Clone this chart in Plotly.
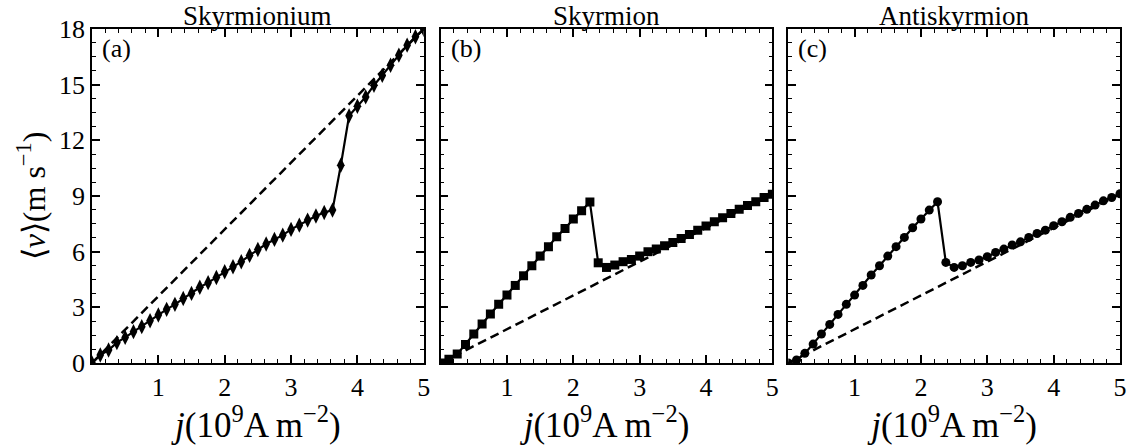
import plotly.graph_objects as go

# ---------------- data ----------------
j_step = 0.125
j_vals = [round(j_step * k, 3) for k in range(41)]  # 0 .. 5

v_skyrmionium = [0.0, 0.43, 0.7, 1.1, 1.38, 1.69, 1.96, 2.28, 2.59, 2.89, 3.16,
                 3.48, 3.75, 4.08, 4.33, 4.61, 4.92, 5.19, 5.46, 5.8, 6.12,
                 6.41, 6.66, 6.89, 7.2, 7.43, 7.7, 7.92, 8.11, 8.24, 10.66,
                 13.32, 13.84, 14.34, 14.97, 15.5, 16.05, 16.59, 17.13, 17.58, 17.98]

v_skyrmion = [0.0, 0.2, 0.48, 1.0, 1.56, 2.1, 2.64, 3.16, 3.66, 4.18, 4.7,
              5.24, 5.76, 6.27, 6.8, 7.25, 7.76, 8.2, 8.67, 5.4, 5.15,
              5.28, 5.46, 5.58, 5.76, 6.0, 6.14, 6.32, 6.5, 6.71, 6.93,
              7.16, 7.38, 7.61, 7.83, 8.06, 8.28, 8.49, 8.69, 8.92, 9.1]

v_antiskyrmion = [0.0, 0.16, 0.52, 1.02, 1.56, 2.08, 2.62, 3.16, 3.66, 4.18, 4.74,
                  5.24, 5.76, 6.27, 6.77, 7.29, 7.76, 8.24, 8.69, 5.42, 5.15,
                  5.24, 5.42, 5.55, 5.73, 5.96, 6.14, 6.36, 6.53, 6.77, 6.98,
                  7.16, 7.4, 7.61, 7.85, 8.06, 8.28, 8.51, 8.74, 8.92, 9.12]

# analytic reference lines (dashed), endpoints
ref_j = [0, 5]
ref_skyrmionium = [0, 18]
ref_skyrmion = [0, 9.1]
ref_antiskyrmion = [0, 9.1]

titles = ["Skyrmionium", "Skyrmion", "Antiskyrmion"]
labels = ["(a)", "(b)", "(c)"]
x_ticks = [0, 1, 2, 3, 4, 5]
x_ticktext = ["", "1", "2", "3", "4", "5"]
y_ticks = [0, 3, 6, 9, 12, 15, 18]

# ---------------- figure ----------------
FONT = "'Liberation Serif', 'Times New Roman', serif"
W, H = 1138, 445
L, R, T, B = 92, 11, 29, 82
pw = W - L - R
panels_px = [(92, 426), (443, 777), (793, 1127)]
domains = [[(a - L) / pw, (b - L) / pw] for a, b in panels_px]

fig = go.Figure()
series = [v_skyrmionium, v_skyrmion, v_antiskyrmion]
refs = [ref_skyrmionium, ref_skyrmion, ref_antiskyrmion]
symbols = ["diamond-tall", "square", "circle"]
msizes = [11, 9, 9]

for i in range(3):
    xa = "x" if i == 0 else f"x{i+1}"
    ya = "y" if i == 0 else f"y{i+1}"
    fig.add_trace(go.Scatter(x=ref_j, y=refs[i], mode="lines",
                             line=dict(color="black", width=2.5, dash="9px,5px"),
                             xaxis=xa, yaxis=ya, showlegend=False, cliponaxis=True))
    fig.add_trace(go.Scatter(x=j_vals, y=series[i], mode="lines+markers",
                             line=dict(color="black", width=2.2),
                             marker=dict(symbol=symbols[i], size=msizes[i], color="black"),
                             xaxis=xa, yaxis=ya, showlegend=False, cliponaxis=True))

axis_common = dict(showline=True, linecolor="black", linewidth=1.5, mirror="allticks",
                   ticks="inside", tickcolor="black", tickwidth=1.5, ticklen=8,
                   showgrid=False, zeroline=False,
                   tickfont=dict(family=FONT, size=26, color="black"))

layout = dict(width=W, height=H, margin=dict(l=L, r=R, t=T, b=B),
              plot_bgcolor="white", paper_bgcolor="white",
              font=dict(family=FONT, color="black"))

annotations = []
for i in range(3):
    xk = "xaxis" if i == 0 else f"xaxis{i+1}"
    yk = "yaxis" if i == 0 else f"yaxis{i+1}"
    xref = "x" if i == 0 else f"x{i+1}"
    yref = "y" if i == 0 else f"y{i+1}"
    layout[xk] = dict(axis_common, domain=domains[i], range=[0, 5],
                      tickmode="array", tickvals=x_ticks, ticktext=x_ticktext,
                      anchor=yref,
                      minor=dict(ticks="inside", tickmode="linear", tick0=0, dtick=0.2,
                                 ticklen=4, tickcolor="black", tickwidth=1.2),
                      title=dict(text="<i>j</i>(10<sup>9</sup>A m<sup>−2</sup>)",
                                 font=dict(family=FONT, size=35, color="black"),
                                 standoff=4))
    layout[yk] = dict(axis_common, domain=[0, 1], range=[0, 18],
                      tickmode="array", tickvals=y_ticks,
                      showticklabels=(i == 0), anchor=xref,
                      minor=dict(ticks="inside", tickmode="linear", tick0=0, dtick=0.75,
                                 ticklen=4, tickcolor="black", tickwidth=1.2))
    if i == 0:
        layout[yk]["title"] = dict(text="⟨<i>v</i>⟩(m s<sup>−1</sup>)",
                                   font=dict(family=FONT, size=32, color="black"),
                                   standoff=4)
    d = domains[i]
    annotations.append(dict(text=titles[i], x=(d[0] + d[1]) / 2, y=1, xref="paper",
                            yref="paper", xanchor="center", yanchor="bottom",
                            showarrow=False, yshift=-4,
                            font=dict(family=FONT, size=27, color="black")))
    annotations.append(dict(text=labels[i], x=d[0], y=1, xref="paper", yref="paper",
                            xanchor="left", yanchor="top", xshift=8, yshift=-3,
                            showarrow=False,
                            font=dict(family=FONT, size=26, color="black")))

layout["annotations"] = annotations
fig.update_layout(**layout)
fig.write_html("out.html")
